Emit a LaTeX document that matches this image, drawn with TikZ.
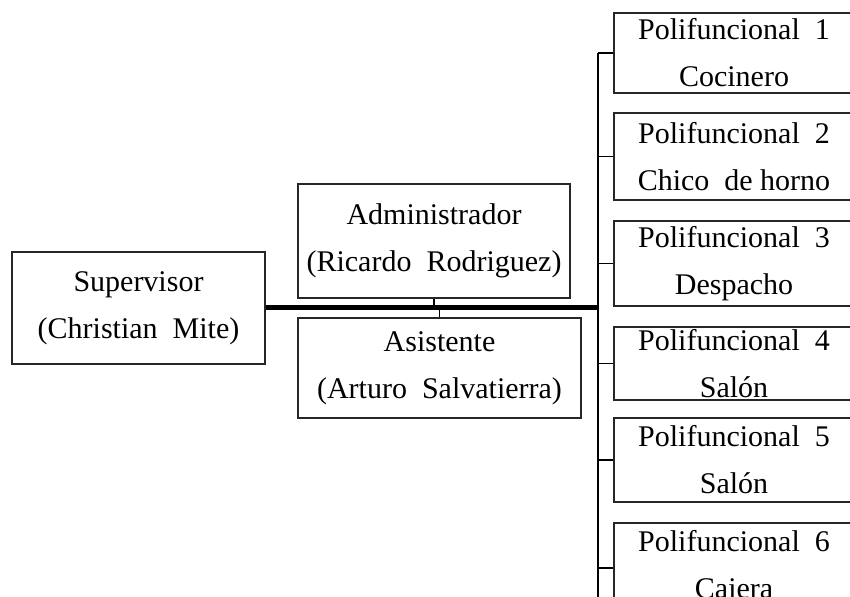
\documentclass[tikz,border=0pt]{standalone}
\usepackage{fontspec}
\setmainfont{Liberation Serif}
\usepackage{tikz}
\usetikzlibrary{positioning}

\begin{document}
\begin{tikzpicture}[
  x=0.5pt, y=-0.5pt,
  font=\fontsize{15}{23.5}\selectfont,
  box/.style={draw=black!85, line width=0.6pt, inner sep=0pt, minimum width=#1},
  leftbox/.style={box=#1, align=center},
  polibox/.style={box=120pt},
  link/.style={line width=0.7pt},
  mainline/.style={line width=2.5pt},
]
\clip (0,0) rectangle (850,597);

% left side
\node[leftbox=126.5pt, minimum height=56pt] (sup) at (138.5,308) {Supervisor\\(Christian\enspace Mite)};
\node[leftbox=136pt, minimum height=57pt] (adm) at (434,241) {Administrador\\(Ricardo\enspace Rodriguez)};
\node[leftbox=141.5pt, minimum height=50pt] (asi) at (439.5,368) {Asistente\\(Arturo\enspace Salvatierra)};

% right column (text may spill over the box)
\node[polibox, minimum height=40pt, label={[align=center]center:Polifuncional\enspace 1\\Cocinero}] (p1) at (734,53) {};
\node[polibox, minimum height=43.5pt, label={[align=center]center:Polifuncional\enspace 2\\Chico\enspace de horno}] (p2) at (734,156.5) {};
\node[polibox, minimum height=42.5pt, label={[align=center]center:Polifuncional\enspace 3\\Despacho}] (p3) at (734,263.5) {};
\node[polibox, minimum height=36.5pt, label={[align=center]center:Polifuncional\enspace 4\\Salón}] (p4) at (734,363.5) {};
\node[polibox, minimum height=42pt, label={[align=center]center:Polifuncional\enspace 5\\Salón}] (p5) at (734,460) {};
\node[polibox, minimum height=45pt, label={[align=center]center:Polifuncional\enspace 6\\Cajera}] (p6) at (734,568) {};

\coordinate (bustop) at (598,53);
\coordinate (busbot) at (598,610);
\coordinate (join) at (598,308);

\draw[mainline] (sup.east) -- (join);
\draw[link] (bustop) -- (busbot);
\draw[link] (adm.south) -- (adm.south |- join);
\draw[link] (asi.north) -- (asi.north |- join);
\draw[link] (p1.west) -- (p1.west -| bustop);
\draw[link] (p2.west) -- (p2.west -| bustop);
\draw[link] (p3.west) -- (p3.west -| bustop);
\draw[link] (p4.west) -- (p4.west -| bustop);
\draw[link] (p5.west) -- (p5.west -| bustop);
\draw[link] (p6.west) -- (p6.west -| bustop);
\end{tikzpicture}
\end{document}
